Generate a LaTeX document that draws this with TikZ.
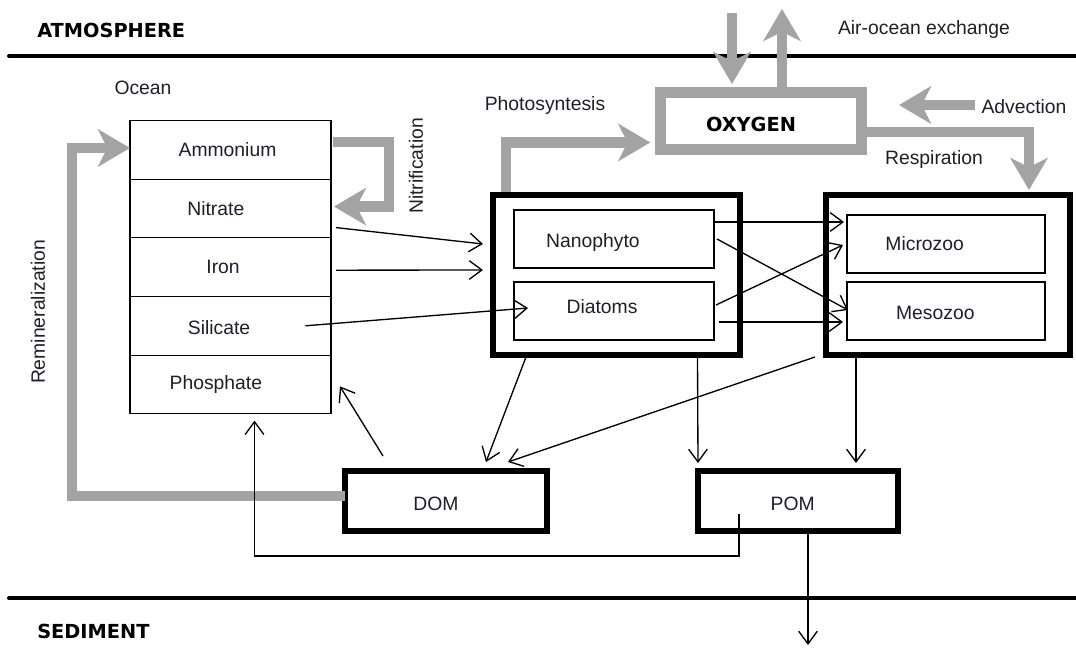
\documentclass[tikz,border=0pt]{standalone}
\usepackage{fontspec}
\setmainfont{Liberation Sans}
\newfontfamily\headfont{DejaVu Sans}
\usetikzlibrary{arrows.meta,calc}
\definecolor{gr}{RGB}{163,163,163}
\definecolor{txt}{RGB}{30,30,40}
\begin{document}
\begin{tikzpicture}[x=0.75pt,y=-0.75pt,
  every node/.style={font=\fontsize{14.5}{16}\selectfont, text=txt},
  lbl/.style={inner sep=0pt},
  head/.style={inner sep=0pt, font=\headfont\bfseries\fontsize{14.5}{16}\selectfont, text=black},
  row/.style={draw, line width=0.8pt, minimum width=150.75pt, minimum height=43.9pt, inner sep=0pt, outer sep=0pt},
  frame/.style={draw, line width=4pt, inner sep=0pt, outer sep=0pt},
  inbox/.style={draw, line width=0.9pt, inner sep=0pt, outer sep=0pt},
  thin/.style={line width=1pt, -{Straight Barb[length=9.5pt,width=14pt]}},
  garrow/.style={draw=gr, line width=7.75pt, -{Stealth[length=24pt,width=28pt,inset=7pt]}},
  sep/.style={line width=3pt, line cap=round}]
\useasboundingbox (0,0) rectangle (1076,648);

% layer lines
\coordinate (tl) at (9,56);
\coordinate (tr) at (1076,56);
\coordinate (bl) at (9,598);
\coordinate (br) at (1076,598);
\draw[sep] (tl) -- (tr);
\draw[sep] (bl) -- (br);
\node[head, anchor=west] (atm) at (37,30) {ATMOSPHERE};
\node[head, anchor=west] (sed) at (37,631) {SEDIMENT};
\node[lbl] (ocean) at (143,88) {Ocean};

% nutrient stack
\node[row, label={[lbl,xshift=-2.25pt]center:Ammonium}] (amm) at (230.5,150) {};
\node[row, label={[lbl,xshift=-11pt]center:Nitrate}] (nitr) at (230.5,208.6) {};
\node[row, label={[lbl,xshift=-5.6pt]center:Iron}] (iron) at (230.5,267.2) {};
\node[row, label={[lbl,xshift=-8.6pt,yshift=-1pt]center:Silicate}] (sil) at (230.5,325.8) {};
\node[row, label={[lbl,xshift=-11pt]center:Phosphate}] (phos) at (230.5,384.4) {};

% phytoplankton
\node[frame, minimum width=185.25pt, minimum height=120pt] (phyto) at (616.5,275) {};
\node[inbox, minimum width=150pt, minimum height=43.5pt, label={[lbl,xshift=-15.75pt,yshift=-3pt]center:Nanophyto}] (nano) at (614,239) {};
\node[inbox, minimum width=150pt, minimum height=43.5pt, label={[lbl,xshift=-9pt,yshift=3pt]center:Diatoms}] (diat) at (614,311) {};

% zooplankton
\node[frame, minimum width=183pt, minimum height=120pt] (zoo) at (948,275) {};
\node[inbox, minimum width=148.5pt, minimum height=43.5pt, label={[lbl,xshift=-16pt]center:Microzoo}] (micro) at (946,244) {};
\node[inbox, minimum width=148.5pt, minimum height=43.5pt, label={[lbl,xshift=-8pt,yshift=-1.5pt]center:Mesozoo}] (meso) at (946,311) {};

% DOM / POM
\node[frame, minimum width=151.5pt, minimum height=45pt, label={[lbl,xshift=-7.5pt,yshift=-2pt]center:DOM}] (dom) at (446,501) {};
\node[frame, minimum width=150pt, minimum height=45pt, label={[lbl,xshift=-4pt,yshift=-2pt]center:POM}] (pom) at (798,501) {};

% oxygen
\node[draw=gr, line width=8.25pt, minimum width=151.1pt, minimum height=42.75pt, inner sep=0pt, outer sep=0pt,
      label={[head,xshift=-7.5pt,yshift=-2.5pt]center:OXYGEN}] (oxy) at (761,121.5) {};

% gray flux arrows
\draw[garrow] ($(amm.east)+(2,-8)$) -- ++(56,0) |- ($(nitr.east)+(3,-2)$);
\node[lbl, rotate=90] (nitlbl) at (416,166) {Nitrification};
\draw[garrow] ($(dom.west)+(0,-5)$) -- ++(-273,0) |- ($(amm.west)+(0,-2)$);
\node[lbl, rotate=90] (remlbl) at (38,312) {Remineralization};
\draw[garrow] ($(phyto.north west)+(13,-3)$) |- ($(oxy.west)+(-10,21)$);
\node[lbl] (phlbl) at (545,106) {Photosyntesis};
\draw[garrow] ($(oxy.east)+(5,10.5)$) -| ($(zoo.north east)+(-41,-5)$);
\node[lbl] (reslbl) at (934,160) {Respiration};
\coordinate (advs) at (975,105);
\coordinate (advt) at (899,105);
\draw[garrow] (advs) -- (advt);
\node[lbl] (advlbl) at (1024,107) {Advection};
\coordinate (aodown) at (732,13);
\coordinate (aoup) at (782,9);
\draw[garrow] (aodown) -- ($(oxy.north)+(-29,-9)$);
\draw[garrow] ($(oxy.north)+(21,-5)$) -- (aoup);
\node[lbl] (aolbl) at (924,30) {Air-ocean exchange};

% thin arrows: nutrients -> phyto
\draw[thin] ($(nitr.east)+(5,19)$) -- ($(phyto.west)+(-10,-31)$);
\draw[thin] ($(iron.east)+(5,3)$) -- ($(phyto.west)+(-10,-5)$);
\draw[thin] ($(sil.center)+(75,0)$) -- ($(diat.west)+(14,-3)$);

% phyto -> zoo
\draw[thin] ($(nano.east)+(0,-17)$) -- ($(micro.west)+(-3,-22)$);
\draw[thin] ($(nano.east)+(3,0)$) -- ($(meso.west)+(1,-1)$);
\draw[thin] ($(diat.east)+(2,-6)$) -- ($(micro.west)+(-4,1)$);
\draw[thin] ($(diat.east)+(5,11)$) -- ($(meso.west)+(-4,11)$);

% to DOM / POM
\draw[thin] ($(phyto.south west)+(33,2)$) -- ($(dom.north)+(40,-9)$);
\draw[thin] ($(zoo.south west)+(-11,2)$) -- ($(dom.north)+(62,-9)$);
\draw[thin] ($(phyto.south)+(81,0)$) -- ($(pom.north west)+(0,-8)$);
\draw[thin] ($(zoo.south west)+(30,0)$) -- ($(pom.north east)+(-42,-8)$);

% back to nutrients
\draw[thin] ($(dom.north west)+(38,-15)$) -- ($(phos.east)+(9,2)$);
\draw[thin] ($(pom.south west)+(41,-17)$) -- ++(0,42) -| ($(phos.south)+(24,7)$);

% sinking to sediment
\coordinate (sedtip) at (808,645);
\draw[thin] ($(pom.south)+(10,0)$) -- (sedtip);
\end{tikzpicture}
\end{document}
